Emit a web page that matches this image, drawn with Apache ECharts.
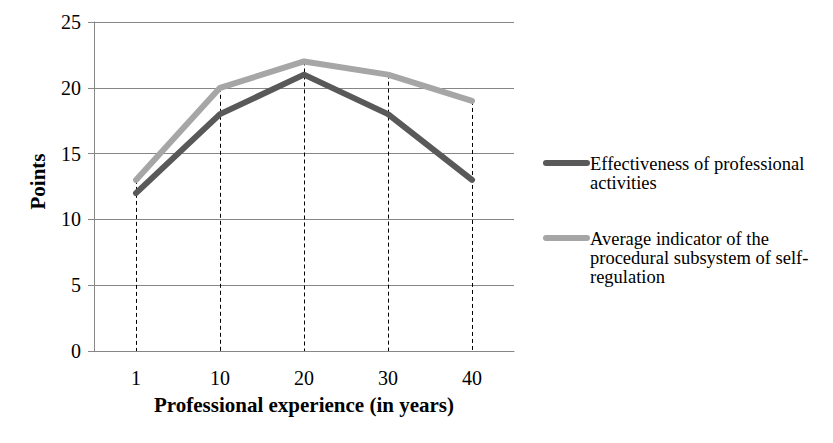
<!DOCTYPE html>
<html>
<head>
<meta charset="utf-8">
<script src="https://cdn.jsdelivr.net/npm/echarts@6/dist/echarts.min.js"></script>
<style>
  html, body { margin: 0; padding: 0; background: #fff; }
  #chart { width: 833px; height: 443px; }
</style>
</head>
<body>
<div id="chart"></div>
<script>
"use strict";

// Data.
const years = ["1", "10", "20", "30", "40"];
const effectiveness = [12, 18, 21, 18, 13];
const procedural = [13, 20, 22, 21, 19];
const seriesNames = [
  "Effectiveness of professional activities",
  "Average indicator of the procedural subsystem of self-regulation",
];
const legendLines = [
  ["Effectiveness of professional", "activities"],
  ["Average indicator of the", "procedural subsystem of self-", "regulation"],
];

const FONT = "'Liberation Serif', 'Times New Roman', serif";
const COLORS = ["#595959", "#a6a6a6"];
const AXIS = "#868686";

// Drop lines run from the highest point of each category down to the axis.
const dropLines = years.map((y, i) => [
  { coord: [y, Math.max(effectiveness[i], procedural[i])] },
  { coord: [y, 0] },
]);

// Legend drawn as graphic so the key sits beside the first text line.
const legendKeyY = [163, 238];
const legendGraphic = [];
seriesNames.forEach((name, k) => {
  legendGraphic.push({
    type: "line",
    shape: { x1: 546, y1: legendKeyY[k], x2: 587, y2: legendKeyY[k] },
    style: { stroke: COLORS[k], lineWidth: 6, lineCap: "round" },
  });
  legendGraphic.push({
    type: "text",
    left: 590, top: legendKeyY[k] - 9,
    style: {
      text: legendLines[k].join("\n"),
      font: "18.5px " + FONT,
      fill: "#000",
      lineHeight: 19,
    },
  });
});

const chart = echarts.init(document.getElementById("chart"), null, { renderer: "svg" });
chart.setOption({
  animation: false,
  backgroundColor: "#fff",
  textStyle: { fontFamily: FONT, color: "#000" },
  grid: { left: 94, right: 319, top: 22, bottom: 92 },
  xAxis: {
    type: "category",
    data: years,
    boundaryGap: true,
    name: "Professional experience (in years)",
    nameLocation: "middle",
    nameGap: 43,
    nameTextStyle: { fontFamily: FONT, fontSize: 21, fontWeight: "bold", color: "#000" },
    axisLine: { lineStyle: { color: AXIS } },
    axisTick: { show: false },
    axisLabel: { fontFamily: FONT, fontSize: 20, color: "#000", margin: 17 },
    splitLine: { show: false },
  },
  yAxis: {
    type: "value",
    min: 0, max: 25, interval: 5,
    name: "Points",
    nameLocation: "middle",
    nameGap: 46,
    nameTextStyle: {
      fontFamily: FONT, fontSize: 21, fontWeight: "bold", color: "#000",
      padding: [0, 0, 0, 10],
    },
    axisLine: { show: true, lineStyle: { color: AXIS } },
    axisTick: { show: true, length: 6, lineStyle: { color: AXIS } },
    axisLabel: { fontFamily: FONT, fontSize: 20, color: "#000", margin: 13 },
    splitLine: { lineStyle: { color: AXIS, width: 1 } },
  },
  series: [
    {
      name: seriesNames[0],
      type: "line",
      data: effectiveness,
      symbol: "none",
      lineStyle: { color: COLORS[0], width: 6, cap: "round", join: "round" },
      z: 3,
    },
    {
      name: seriesNames[1],
      type: "line",
      data: procedural,
      symbol: "none",
      lineStyle: { color: COLORS[1], width: 6, cap: "round", join: "round" },
      z: 2,
      markLine: {
        silent: true,
        symbol: "none",
        label: { show: false },
        lineStyle: { color: "#000", type: [4, 3], width: 1 },
        data: dropLines,
        z: 1,
      },
    },
  ],
  graphic: legendGraphic,
});
</script>
</body>
</html>
